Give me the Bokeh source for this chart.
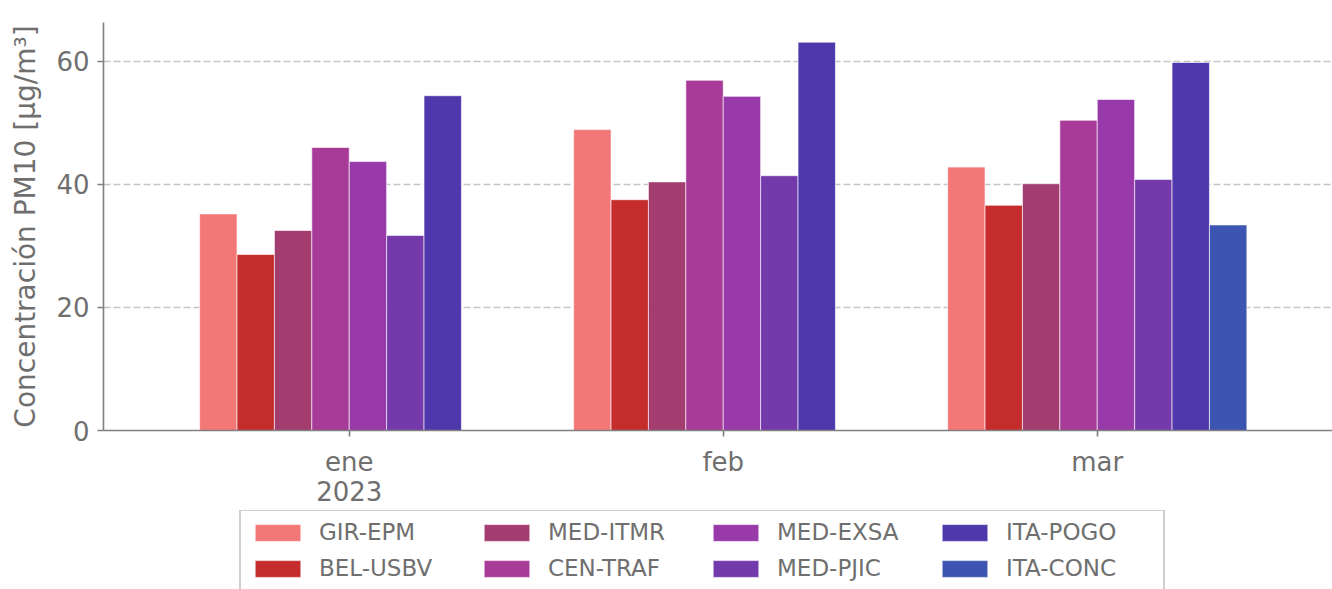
from bokeh.plotting import figure
from bokeh.layouts import column
from bokeh.models import ColumnDataSource, Legend, LegendItem, FixedTicker, Range1d
from bokeh.embed import file_html
from bokeh.resources import INLINE

months = ["ene", "feb", "mar"]
month_labels = ["ene\n2023", "feb", "mar"]
stations = ["GIR-EPM", "BEL-USBV", "MED-ITMR", "CEN-TRAF", "MED-EXSA", "MED-PJIC", "ITA-POGO", "ITA-CONC"]
colors = ["#f47777", "#c52c2c", "#a33d70", "#a83a98", "#983aaa", "#7439ab", "#4f38ac", "#3b55b0"]

gir_epm = [35.2, 48.9, 42.8]
bel_usbv = [28.6, 37.5, 36.6]
med_itmr = [32.5, 40.4, 40.1]
cen_traf = [46.0, 56.9, 50.4]
med_exsa = [43.7, 54.3, 53.8]
med_pjic = [31.7, 41.4, 40.8]
ita_pogo = [54.4, 63.1, 59.8]
ita_conc = [None, None, 33.4]

series = [gir_epm, bel_usbv, med_itmr, cen_traf, med_exsa, med_pjic, ita_pogo, ita_conc]

TEXT = "#6f6f6f"
AX = "#808080"
FONT = "DejaVu Sans"

p = figure(width=1332, height=510, output_backend="svg", toolbar_location=None,
           x_range=Range1d(-0.657, 2.629), y_range=Range1d(0, 66.3),
           min_border_left=103, min_border_right=0, min_border_top=22, min_border_bottom=80)
p.outline_line_color = None
p.background_fill_color = "white"
p.border_fill_color = "white"

n = len(stations)
w = 0.1
for i, (name, vals, col) in enumerate(zip(stations, series, colors)):
    xs = [j + (i - (n - 1) / 2) * w for j in range(len(months)) if vals[j] is not None]
    ys = [v for v in vals if v is not None]
    src = ColumnDataSource(dict(x=xs, top=ys))
    p.vbar(x="x", top="top", width=w, bottom=0, source=src, fill_color=col,
           line_color="white", line_alpha=0.6, line_width=1)

p.xgrid.grid_line_color = None
p.ygrid.grid_line_color = "#c4c4c4"
p.ygrid.grid_line_dash = "7 3"
p.ygrid.grid_line_width = 1.5
p.ygrid.ticker = FixedTicker(ticks=[20, 40, 60])

p.xaxis.ticker = FixedTicker(ticks=[0, 1, 2])
p.xaxis.major_label_overrides = {0: month_labels[0], 1: month_labels[1], 2: month_labels[2]}
p.yaxis.ticker = FixedTicker(ticks=[0, 20, 40, 60])
p.yaxis.axis_label = "Concentración PM10 [μg/m³]"

for ax in (p.xaxis[0], p.yaxis[0]):
    ax.axis_line_color = AX
    ax.axis_line_width = 1.6
    ax.major_tick_line_color = AX
    ax.major_tick_line_width = 1.6
    ax.major_tick_out = 6
    ax.major_tick_in = 0
    ax.minor_tick_line_color = None
    ax.major_label_text_color = TEXT
    ax.major_label_text_font = FONT
    ax.major_label_text_font_size = "26px"
    ax.axis_label_text_color = TEXT
    ax.axis_label_text_font = FONT
    ax.axis_label_text_font_size = "28px"
    ax.axis_label_text_font_style = "normal"
    ax.major_label_standoff = 8

p.xaxis.major_label_text_line_height = 1.0
p.xaxis.major_label_standoff = 10
p.yaxis.axis_label_standoff = 11

# legend figure below the chart
lf = figure(width=1332, height=79, output_backend="svg", toolbar_location=None,
            x_axis_type=None, y_axis_type=None, x_range=Range1d(0, 1), y_range=Range1d(0, 1),
            min_border_left=103, min_border_right=0, min_border_top=0, min_border_bottom=0)
lf.outline_line_color = None
lf.xgrid.grid_line_color = None
lf.ygrid.grid_line_color = None
items = []
for name, col in zip(stations, colors):
    r = lf.vbar(x=[5], top=[5], bottom=[4], width=0.1, fill_color=col,
                line_color="white", line_alpha=0.6, line_width=1)
    items.append(LegendItem(label=name, renderers=[r]))

legend = Legend(items=items, location=(136, -2), orientation="vertical", nrows=2,
                label_text_font=FONT, label_text_font_size="23px", label_text_color=TEXT,
                glyph_width=57, glyph_height=21, label_standoff=13, label_height=20,
                label_width=149, spacing=10, padding=8, margin=0,
                border_line_color="#a0a0a0", border_line_width=2,
                background_fill_color="white", background_fill_alpha=1.0)
lf.add_layout(legend, "center")

layout = column(p, lf, spacing=0)
open("out.html", "w").write(file_html(layout, INLINE))
